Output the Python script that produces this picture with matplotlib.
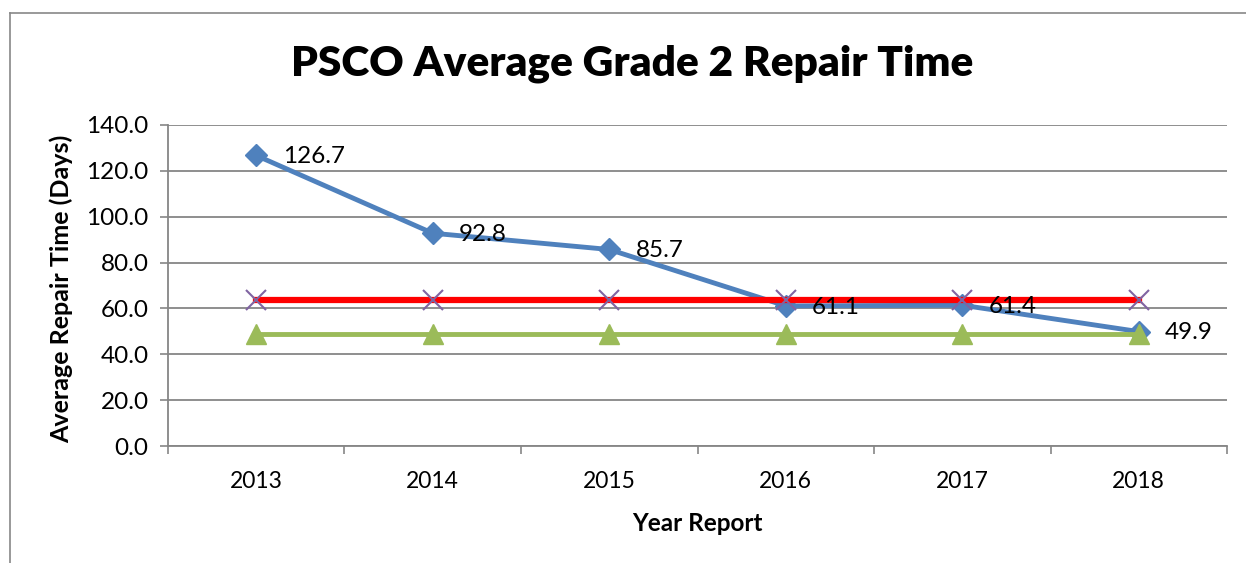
import numpy as np
import matplotlib.pyplot as plt
from matplotlib.lines import Line2D
from matplotlib.ticker import FixedLocator

years = ['2013', '2014', '2015', '2016', '2017', '2018']
repair_days = [126.7, 92.8, 85.7, 61.1, 61.4, 49.9]
red_level = [63.5] * 6
green_level = [49.0] * 6

plt.rcParams['font.family'] = ['Lato', 'DejaVu Sans']

fig = plt.figure(figsize=(12.46, 5.63), dpi=100)
ax = fig.add_axes([0.1348, 0.2078, 0.85, 0.5702])

x = np.arange(len(years))
ax.plot(x, repair_days, color='#4F81BD', lw=3.5, marker='D', ms=11, zorder=3)
ax.plot(x, red_level, color='#FF0000', lw=4.5, zorder=4)
ax.plot(x, red_level, ls='none', marker='x', ms=14, mew=1.5, color='#8064A2', zorder=5)
ax.plot(x, green_level, color='#9BBB59', lw=3.5, marker='^', ms=14, zorder=4)

for xi, v in zip(x, repair_days):
    ax.annotate(f'{v:.1f}', (xi, v), xytext=(19, -1), textcoords='offset points',
                ha='left', va='center', fontsize=17.5, zorder=6)

ax.set_xlim(-0.5, len(years) - 0.5)
ax.set_ylim(0, 140)
ax.set_yticks(np.arange(0, 141, 20))
ax.set_yticklabels([f'{v:.1f}' for v in np.arange(0, 141, 20)], fontsize=17.5)
ax.set_xticks(x)
ax.set_xticklabels(years, fontsize=16.5)
ax.xaxis.set_minor_locator(FixedLocator(np.arange(-0.5, len(years), 1)))
ax.tick_params(axis='x', which='major', length=0, pad=18)
ax.tick_params(axis='x', which='minor', length=6, width=1.2, color='#868686')
ax.tick_params(axis='y', length=6, width=1.2, color='#868686', pad=8)

ax.grid(axis='y', color='#868686', lw=1.3)
ax.set_axisbelow(True)
for s in ['top', 'right']:
    ax.spines[s].set_visible(False)
for s in ['left', 'bottom']:
    ax.spines[s].set_color('#868686')
    ax.spines[s].set_linewidth(1.3)

ax.set_ylabel('Average Repair Time (Days)', fontsize=18, fontweight='bold')
ax.yaxis.set_label_coords(-0.09, 0.49)
ax.set_xlabel('Year Report', fontsize=17.5, fontweight='bold')
ax.xaxis.set_label_coords(0.5, -0.205)

fig.text(0.507, 0.886, 'PSCO Average Grade 2 Repair Time', ha='center', va='center',
         fontsize=30.5, fontweight='heavy')

# outer chart border (cut off at right and bottom)
fig.add_artist(Line2D([10 / 1246, 10 / 1246], [0, 1 - 13 / 563], color='#888888', lw=1.2))
fig.add_artist(Line2D([10 / 1246, 1], [1 - 13 / 563, 1 - 13 / 563], color='#888888', lw=1.2))

fig.savefig('out.png', dpi=100)
